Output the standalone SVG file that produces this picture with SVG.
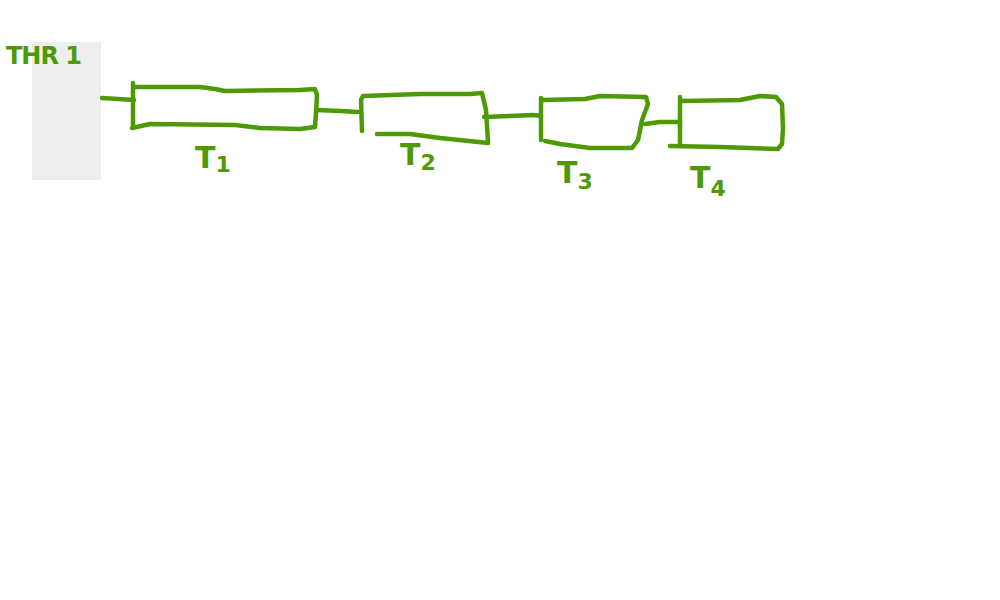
<svg xmlns="http://www.w3.org/2000/svg" width="1000" height="600" viewBox="0 0 1000 600">
<style>
.ink{fill:none;stroke:#4e9a06;stroke-width:4.5;stroke-linecap:round;stroke-linejoin:round}
.lbl{font-family:"DejaVu Sans","Liberation Sans",sans-serif;fill:#4e9a06;font-weight:bold}
</style>
<rect width="1000" height="600" fill="#ffffff"/>
<g id="thread">
<rect x="32" y="42" width="69" height="138" fill="#eeeeee"/>
<text class="lbl" x="6" y="64" font-size="24" letter-spacing="-1">THR 1</text>
</g>
<g id="connectors">
<path class="ink" d="M102,98 L118,99 L134,100"/>
<path class="ink" d="M317,110 L340,111 L358,112"/>
<path class="ink" d="M484,117 L510,116 L533,115 L541,116"/>
<path class="ink" d="M645,124 L660,122 L680,122"/>
</g>
<g id="T1">
<path class="ink" d="M133,83 L133,128 M134,87 L200,87 L215,89 L225,91 L300,90 L315,89 L317,95 L316,113 L315,127 L300,129 L260,128 L235,125 L150,124 L132,128"/>
<text class="lbl" x="195" y="168" font-size="30">T<tspan font-size="22" dy="4">1</tspan></text>
</g>
<g id="T2">
<path class="ink" d="M362,131 L361,100 L363,96 L420,94 L470,94 L482,93 L486,110 L488,142 M377,134 L410,134 L440,138 L488,143"/>
<text class="lbl" x="400" y="165" font-size="30">T<tspan font-size="22" dy="5">2</tspan></text>
</g>
<g id="T3">
<path class="ink" d="M541,98 L541,140 M542,100 L585,99 L600,96 L646,97 L648,104 L642,120 L638,140 L632,148 L590,148 L560,144 L545,141"/>
<text class="lbl" x="557" y="183" font-size="30">T<tspan font-size="22" dy="6">3</tspan></text>
</g>
<g id="T4">
<path class="ink" d="M680,97 L680,146 M681,101 L740,100 L760,96 L776,97 L782,104 L783,128 L782,144 L778,149 L720,147 L670,146"/>
<text class="lbl" x="690" y="188" font-size="30">T<tspan font-size="22" dy="8">4</tspan></text>
</g>
</svg>
